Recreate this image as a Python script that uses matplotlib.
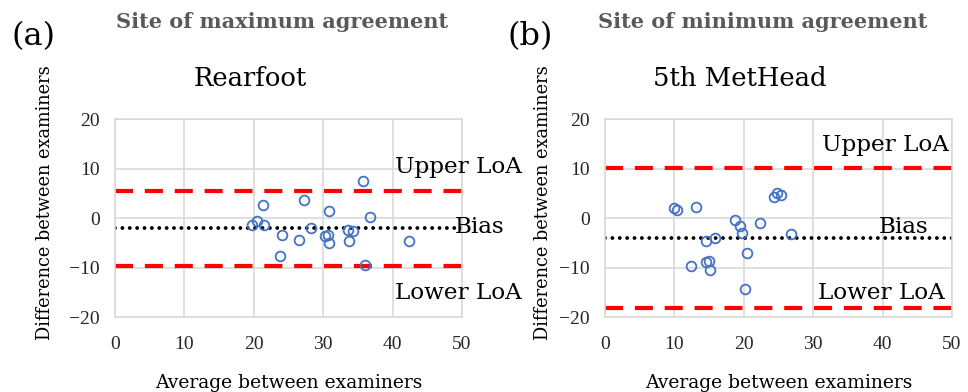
import numpy as np
import matplotlib.pyplot as plt

plt.rcParams['lines.scale_dashes'] = False

# (a) Rearfoot
avg_a = [19.7, 20.4, 21.4, 21.3, 24.0, 23.8, 26.5, 27.2, 28.3, 30.2,
         30.7, 30.8, 30.9, 33.5, 33.7, 34.3, 35.7, 36.0, 36.8, 42.4]
diff_a = [-1.5, -0.6, -1.35, 2.6, -3.4, -7.7, -4.4, 3.6, -1.95, -3.7,
          -3.4, -5.1, 1.35, -2.35, -4.65, -2.7, 7.4, -9.4, 0.3, -4.65]
bias_a, upper_a, lower_a = -2.1, 5.45, -9.65

# (b) 5th MetHead
avg_b = [10.0, 10.4, 13.1, 12.4, 14.6, 15.9, 14.6, 15.0, 15.1, 18.8,
         19.4, 19.8, 20.4, 20.1, 22.4, 24.4, 24.8, 25.3, 26.8]
diff_b = [2.1, 1.7, 2.2, -9.7, -4.65, -4.0, -8.8, -8.7, -10.45, -0.35,
          -1.6, -3.0, -7.15, -14.4, -1.1, 4.25, 5.0, 4.65, -3.15]
bias_b, upper_b, lower_b = -4.0, 10.1, -18.1

xticks = [0, 10, 20, 30, 40, 50]
yticks = [-20, -10, 0, 10, 20]

fig = plt.figure(figsize=(9.68, 3.92), dpi=100)
serif = 'DejaVu Serif'
tickfont = 'Liberation Serif'
grey = '#d9d9d9'


def panel(left, x, y, bias, up, low, ylab_x, labpos):
    ax = fig.add_axes([left, 0.1913, 0.3585, 0.5051])
    ax.set_xlim(0, 50)
    ax.set_ylim(-20, 20)
    ax.set_xticks(xticks)
    ax.set_yticks(yticks)
    ax.grid(True, color=grey, lw=1.2)
    ax.set_axisbelow(True)
    for s in ax.spines.values():
        s.set_color(grey)
        s.set_linewidth(1.2)
    ax.tick_params(length=0, labelsize=14, colors='#262626')
    ax.tick_params(axis='x', pad=14)
    ax.tick_params(axis='y', pad=11)
    for lab in ax.get_xticklabels() + ax.get_yticklabels():
        lab.set_family(tickfont)
    ax.axhline(up, color='#ff0000', lw=3, dashes=(13, 8.5), zorder=2)
    ax.axhline(low, color='#ff0000', lw=3, dashes=(13, 8.5), zorder=2)
    ax.axhline(bias, color='black', lw=2.8, dashes=(0.01, 5.3),
               dash_capstyle='round', zorder=2)
    ax.plot(x, y, 'o', mfc='none', mec='#4472c4', ms=7, mew=1.3, zorder=3)
    for txt, tx, ty in labpos:
        ax.text(tx, ty, txt, family=serif, fontsize=16.7, ha='left',
                va='center', clip_on=False)
    bb = ax.get_position()
    cx = (bb.x0 + bb.x1) / 2
    fig.text(cx, (392 - 383) / 392, 'Average between examiners',
             family=serif, fontsize=13.5, ha='center', va='center')
    fig.text(ylab_x / 968, 1 - 203 / 392, 'Difference between examiners',
             family=serif, fontsize=12.8, ha='center', va='center',
             rotation=90)
    return ax


panel(0.1188, avg_a, diff_a, bias_a, upper_a, lower_a, 45,
      [('Upper LoA', 40.3, 10.3), ('Bias', 49.0, -1.9),
       ('Lower LoA', 40.3, -15.2)])
panel(0.625, avg_b, diff_b, bias_b, upper_b, lower_b, 543,
      [('Upper LoA', 31.2, 14.7), ('Bias', 39.4, -1.9),
       ('Lower LoA', 30.7, -15.2)])

# headings
fig.text(34 / 968, 1 - 37 / 392, '(a)', family=serif, fontsize=23,
         ha='center', va='center')
fig.text(530 / 968, 1 - 37 / 392, '(b)', family=serif, fontsize=23,
         ha='center', va='center')
fig.text(282 / 968, 1 - 22 / 392, 'Site of maximum agreement', family=serif,
         fontsize=15, fontweight='bold', color='#595959', ha='center',
         va='center')
fig.text(763 / 968, 1 - 22 / 392, 'Site of minimum agreement', family=serif,
         fontsize=15, fontweight='bold', color='#595959', ha='center',
         va='center')
fig.text(250 / 968, 1 - 78 / 392, 'Rearfoot', family=serif, fontsize=18.6,
         ha='center', va='center')
fig.text(740 / 968, 1 - 78 / 392, '5th MetHead', family=serif,
         fontsize=18.6, ha='center', va='center')

plt.savefig('out.png', dpi=100)
